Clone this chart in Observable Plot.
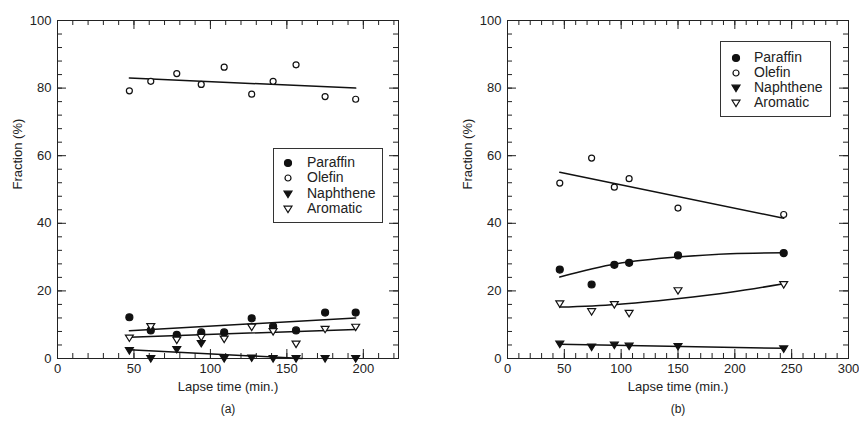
<!DOCTYPE html>
<html><head><meta charset="utf-8">
<script src="https://cdn.jsdelivr.net/npm/d3@7"></script>
<script src="https://cdn.jsdelivr.net/npm/@observablehq/plot@0.6"></script>
<style>
body{margin:0;background:#fff;font-family:"Liberation Sans",Arial,sans-serif;}
#wrap{position:relative;width:859px;height:423px;overflow:hidden;}
.panel{position:absolute;top:0;}
.legend{position:absolute;border:1px solid #333;background:#fff;font-size:14px;color:#222;box-sizing:border-box;}
.legend .row{position:absolute;left:0;height:15px;line-height:15px;white-space:nowrap;}
.legend svg{position:absolute;top:2px;}
.legend span{position:absolute;}
</style>
</head><body>
<div id="wrap"></div>
<script>
// ---------- data ----------
const seriesNames = ["Paraffin", "Olefin", "Naphthene", "Aromatic"];

// Panel (a)
const timeA = [47, 61, 78, 94, 109, 127, 141, 156, 175, 195];
const paraffinA = [12.2, 8.3, 7.0, 7.7, 7.7, 11.9, 9.5, 8.3, 13.6, 13.6];
const olefinA = [79.2, 82.0, 84.3, 81.1, 86.2, 78.2, 82.0, 86.9, 77.5, 76.7];
const naphtheneA = [2.4, 0, 2.7, 4.5, 0, 0.2, 0, 0, 0, 0];
const aromaticA = [6.1, 9.5, 5.5, 6.3, 5.8, 9.3, 8.0, 4.3, 8.7, 9.3];
// fitted lines (a)
const fitTimeA = [47, 195];
const paraffinFitA = [8.2, 12.0];
const olefinFitA = [83.0, 80.0];
const aromaticFitA = [6.3, 8.6];
const naphFitTimeA = [47, 160];
const naphtheneFitA = [2.6, 0.0];

// Panel (b)
const timeB = [46, 74, 94, 107, 150, 243];
const paraffinB = [26.3, 21.9, 27.7, 28.3, 30.5, 31.2];
const olefinB = [51.9, 59.3, 50.7, 53.2, 44.5, 42.6];
const naphtheneB = [4.3, 3.4, 4.0, 3.7, 3.6, 2.9];
const aromaticB = [16.2, 13.9, 16.0, 13.4, 20.1, 21.9];
// fitted curves (b)
const fitTimeB = [46, 96, 149, 196, 243];
const paraffinFitB = [24.1, 28.0, 30.0, 31.0, 31.3];
const aromaticFitB = [15.2, 16.0, 17.7, 19.6, 22.1];
const lineTimeB = [46, 243];
const olefinFitB = [55.1, 41.5];
const naphtheneFitB = [4.2, 3.0];

const yMajor = [0, 20, 40, 60, 80, 100];
const yMinor = d3.range(0, 101, 4);

// ---------- symbols ----------
const triDown = {
  draw(ctx, size) {
    const r = Math.sqrt(size / Math.PI);
    const h = r * 1.1;
    ctx.moveTo(-h, -0.78 * r);
    ctx.lineTo(h, -0.78 * r);
    ctx.lineTo(0, r);
    ctx.closePath();
  }
};
const styles = {
  Paraffin: {symbol: "circle", fill: "#111", stroke: "#111", r: 3.5},
  Olefin: {symbol: "circle", fill: "#fff", stroke: "#111", r: 3.0},
  Naphthene: {symbol: triDown, fill: "#111", stroke: "#111", r: 3.6},
  Aromatic: {symbol: triDown, fill: "#fff", stroke: "#111", r: 3.6}
};

function rows(t, v) { return t.map((x, i) => ({x, y: v[i]})); }

function panel({xMax, xMajor, xMinor, pts, fits, tag, marginLeft, marginRight}) {
  const W = 429, H = 423, mt = 20, mb = 65;
  const ih = H - mt - mb;
  const iw = W - marginLeft - marginRight;
  const marks = [
    Plot.tickX(xMinor, {x: d => d, insetTop: ih - 5, stroke: "#222"}),
    Plot.tickX(xMinor, {x: d => d, insetBottom: ih - 5, stroke: "#222"}),
    Plot.tickX(xMajor, {x: d => d, insetTop: ih - 9, stroke: "#222"}),
    Plot.tickX(xMajor, {x: d => d, insetBottom: ih - 9, stroke: "#222"}),
    Plot.tickY(yMinor, {y: d => d, insetRight: iw - 5, stroke: "#222"}),
    Plot.tickY(yMinor, {y: d => d, insetLeft: iw - 5, stroke: "#222"}),
    Plot.tickY(yMajor, {y: d => d, insetRight: iw - 9, stroke: "#222"}),
    Plot.tickY(yMajor, {y: d => d, insetLeft: iw - 9, stroke: "#222"}),
    Plot.frame({stroke: "#222", strokeWidth: 1}),
    Plot.axisX({ticks: xMajor, tickSize: 0, tickPadding: 5, label: null, fill: "#222", fontSize: 13}),
    Plot.axisY({ticks: yMajor, tickSize: 0, tickPadding: 6, label: null, fill: "#222", fontSize: 13}),
    Plot.text(["Lapse time (min.)"], {frameAnchor: "bottom", dy: 32, fontSize: 13, fill: "#222"}),
    Plot.text([tag], {frameAnchor: "bottom", dy: 54, fontSize: 12, fill: "#222"}),
    Plot.text(["Fraction (%)"], {frameAnchor: "left", dx: -40, rotate: -90, fontSize: 13, fill: "#222"})
  ];
  for (const f of fits) {
    marks.push(Plot.line(rows(f.t, f.v), {x: "x", y: "y", stroke: "#111", strokeWidth: 1.5, curve: f.curve || "linear"}));
  }
  for (const name of seriesNames) {
    const s = styles[name];
    marks.push(Plot.dot(rows(pts.t, pts[name]), {x: "x", y: "y", symbol: s.symbol, r: s.r, fill: s.fill, stroke: s.stroke, strokeWidth: 1.2}));
  }
  return Plot.plot({
    width: W, height: H,
    marginTop: mt, marginBottom: mb, marginLeft, marginRight,
    style: {fontFamily: "'Liberation Sans', Arial, sans-serif", fontSize: "13px", background: "#fff"},
    x: {domain: [0, xMax]},
    y: {domain: [0, 100]},
    symbol: {type: "identity"},
    marks
  });
}

function legend(left, top, width, height, spacing, padTop, symX, textX) {
  const div = document.createElement("div");
  div.className = "legend";
  Object.assign(div.style, {left: left + "px", top: top + "px", width: width + "px", height: height + "px"});
  seriesNames.forEach((name, i) => {
    const s = styles[name];
    const row = document.createElement("div");
    row.className = "row";
    row.style.top = (padTop + i * spacing) + "px";
    const svg = d3.create("svg").attr("width", 12).attr("height", 12).style("left", (symX - 6) + "px");
    const sym = typeof s.symbol === "string" ? d3.symbolCircle : s.symbol;
    svg.append("path")
      .attr("transform", "translate(6,6)")
      .attr("d", d3.symbol(sym, Math.PI * s.r * s.r)())
      .attr("fill", s.fill).attr("stroke", s.stroke).attr("stroke-width", 1.2);
    row.appendChild(svg.node());
    const sp = document.createElement("span");
    sp.textContent = name;
    sp.style.left = textX + "px";
    row.appendChild(sp);
    div.appendChild(row);
  });
  return div;
}

const wrap = document.getElementById("wrap");

const pA = panel({
  xMax: 223, xMajor: [0, 50, 100, 150, 200], xMinor: d3.range(0, 223, 10),
  pts: {t: timeA, Paraffin: paraffinA, Olefin: olefinA, Naphthene: naphtheneA, Aromatic: aromaticA},
  fits: [
    {t: fitTimeA, v: paraffinFitA}, {t: fitTimeA, v: olefinFitA},
    {t: fitTimeA, v: aromaticFitA}, {t: naphFitTimeA, v: naphtheneFitA}
  ],
  tag: "(a)", marginLeft: 57, marginRight: 31
});
pA.classList.add("panel"); pA.style.left = "0px";
wrap.appendChild(pA);

const pB = panel({
  xMax: 300, xMajor: [0, 50, 100, 150, 200, 250, 300], xMinor: d3.range(0, 301, 10),
  pts: {t: timeB, Paraffin: paraffinB, Olefin: olefinB, Naphthene: naphtheneB, Aromatic: aromaticB},
  fits: [
    {t: fitTimeB, v: paraffinFitB, curve: "natural"}, {t: lineTimeB, v: olefinFitB},
    {t: fitTimeB, v: aromaticFitB, curve: "natural"}, {t: lineTimeB, v: naphtheneFitB}
  ],
  tag: "(b)", marginLeft: 77, marginRight: 11
});
pB.classList.add("panel"); pB.style.left = "430px";
wrap.appendChild(pB);

wrap.appendChild(legend(273, 148, 110, 75, 15.4, 6, 14, 33));
wrap.appendChild(legend(720, 41, 111, 76, 15.1, 8, 15, 33));
</script>
</body></html>
